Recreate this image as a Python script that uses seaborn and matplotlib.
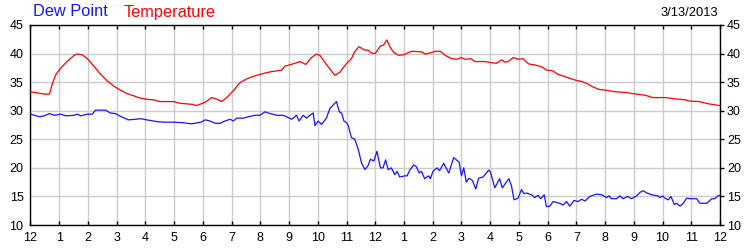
import numpy as np
import pandas as pd
import matplotlib
matplotlib.use("Agg")
import matplotlib.pyplot as plt
import seaborn as sns

# ---- data (hours since midnight, degrees) ----
temp_hours = [0, 0.25, 0.5, 0.66, 0.77, 0.89, 1.06, 1.29, 1.52, 1.63, 1.8, 1.98, 2.2, 2.44,
              2.67, 2.9, 3.13, 3.36, 3.59, 3.82, 4.05, 4.28, 4.5, 4.97, 5.2, 5.66, 5.77, 5.94,
              6.08, 6.31, 6.49, 6.66, 6.83, 7.06, 7.29, 7.53, 7.7, 7.87, 8.1, 8.34, 8.74, 8.86,
              9.14, 9.38, 9.58, 9.78, 9.95, 10.07, 10.3, 10.59, 10.76, 10.99, 11.17, 11.28,
              11.43, 11.63, 11.75, 11.86, 12.0, 12.17, 12.29, 12.4, 12.52, 12.64, 12.81, 13.0,
              13.16, 13.27, 13.62, 13.74, 13.91, 14.08, 14.26, 14.43, 14.66, 14.84, 14.99,
              15.13, 15.33, 15.47, 15.82, 16.05, 16.22, 16.4, 16.51, 16.63, 16.8, 16.98, 17.15,
              17.33, 17.56, 17.79, 17.96, 18.17, 18.35, 18.52, 18.75, 19.0, 19.2, 19.39, 19.56,
              19.8, 20.0, 20.38, 20.72, 20.95, 21.24, 21.4, 21.65, 22.1, 22.4, 22.8, 22.92,
              23.27, 23.6, 24.0]
temp_values = [33.3, 33.1, 32.9, 32.9, 34.9, 36.4, 37.5, 38.7, 39.7, 39.9, 39.8, 39.1, 37.8, 36.4,
               35.2, 34.3, 33.6, 33.0, 32.6, 32.2, 32.0, 31.9, 31.6, 31.6, 31.3, 31.1, 30.9, 31.2,
               31.5, 32.3, 32.0, 31.6, 32.3, 33.5, 34.9, 35.6, 35.9, 36.2, 36.5, 36.8, 37.1, 37.8,
               38.2, 38.6, 38.1, 39.3, 39.9, 39.7, 38.1, 36.2, 36.7, 38.2, 39.1, 40.3,
               41.2, 40.6, 40.6, 40.1, 40.0, 41.3, 41.5, 42.4, 41.1, 40.2, 39.7, 39.8,
               40.2, 40.4, 40.3, 39.9, 40.1, 40.4, 40.4, 39.7, 39.1, 39.0, 39.3,
               39.0, 39.1, 38.6, 38.6, 38.4, 38.3, 38.9, 38.5, 38.6, 39.3, 39.0, 39.1,
               38.2, 38.0, 37.7, 37.1, 37.0, 36.4, 36.1, 35.7, 35.3, 35.1, 34.7, 34.2,
               33.7, 33.6, 33.3, 33.2, 33.0, 32.8, 32.7, 32.3, 32.3, 32.1, 31.9, 31.7,
               31.6, 31.2, 30.9]

dew_hours = [0, 0.14, 0.31, 0.48, 0.66, 0.83, 1.06, 1.23, 1.52, 1.63, 1.75, 1.98, 2.15, 2.26,
             2.44, 2.61, 2.78, 2.95, 3.18, 3.41, 3.64, 3.82, 4.05, 4.39, 4.62, 4.97, 5.31, 5.6,
             5.94, 6.08, 6.25, 6.43, 6.6, 6.77, 6.95, 7.06, 7.18, 7.41, 7.58, 7.82, 7.99, 8.16,
             8.34, 8.57, 8.8, 8.91, 9.09, 9.26, 9.35, 9.49, 9.61, 9.72, 9.84, 9.9, 10.01, 10.13,
             10.3, 10.42, 10.65, 10.75, 10.83, 10.91, 11.0, 11.06, 11.17, 11.29, 11.41, 11.52,
             11.64, 11.75, 11.83, 11.95, 12.06, 12.18, 12.27, 12.36, 12.45, 12.56, 12.68, 12.76,
             12.85, 13.03, 13.11, 13.2, 13.34, 13.43, 13.53, 13.61, 13.72, 13.86, 13.92, 14.01,
             14.15, 14.24, 14.38, 14.56, 14.73, 14.92, 15.0, 15.08, 15.17, 15.26, 15.38, 15.5,
             15.6, 15.75, 15.95, 16.01, 16.16, 16.33, 16.42, 16.65, 16.74, 16.83, 16.97, 17.09,
             17.17, 17.26, 17.44, 17.55, 17.67, 17.76, 17.88, 17.96, 18.08, 18.19, 18.42, 18.54,
             18.66, 18.77, 18.92, 19.06, 19.18, 19.3, 19.47, 19.7, 19.88, 20.05, 20.14, 20.22,
             20.4, 20.51, 20.63, 20.78, 20.92, 21.1, 21.21, 21.33, 21.45, 21.62, 21.83, 21.91,
             22.0, 22.08, 22.2, 22.29, 22.41, 22.49, 22.61, 22.72, 22.84, 22.95, 23.19, 23.3,
             23.54, 23.71, 23.82, 23.92, 24.0]
dew_values = [29.4, 29.2, 28.95, 29.1, 29.5, 29.2, 29.4, 29.1, 29.2, 29.4, 29.1, 29.4, 29.4, 30.1,
              30.1, 30.1, 29.6, 29.5, 28.9, 28.4, 28.5, 28.6, 28.4, 28.1, 28.0, 28.0, 27.9, 27.7,
              28.0, 28.4, 28.2, 27.8, 27.8, 28.2, 28.5, 28.2, 28.7, 28.7, 28.95, 29.2, 29.2, 29.8,
              29.5, 29.2, 29.2, 28.95, 28.5, 29.2, 28.2, 29.2, 28.7, 29.2, 29.6, 27.4, 28.2, 27.6,
              28.7, 30.4, 31.6, 29.8, 29.6, 28.2, 27.9, 27.4, 25.3, 25.0, 23.2, 20.9,
              19.7, 20.4, 21.5, 21.2, 22.9, 20.0, 20.0, 21.4, 19.7, 20.0, 18.8, 19.4,
              18.4, 18.6, 18.6, 19.6, 20.5, 20.2, 19.1, 19.4, 18.1, 18.6, 18.1, 19.4,
              20.0, 19.5, 20.8, 19.1, 21.8, 21.0, 18.6, 20.0, 17.5, 18.2, 17.8, 16.3,
              18.2, 18.4, 19.6, 19.3, 16.5, 18.1, 16.5, 18.1, 16.9, 14.4, 14.7, 16.2,
              15.5, 15.6, 15.3, 14.8, 15.2, 14.6, 15.3, 13.2, 13.3, 14.1, 13.8, 13.5,
              14.1, 13.3, 14.3, 14.1, 14.5, 14.2, 15.0, 15.4, 15.3, 14.8, 15.1, 14.6,
              14.6, 15.1, 14.6, 15.0, 14.6, 15.1, 15.7, 16.0, 15.6, 15.3, 15.1, 14.8,
              15.1, 14.7, 14.4, 15.0, 13.6, 13.8, 13.3, 13.8, 14.7, 14.6, 14.6, 13.8,
              13.8, 14.6, 14.6, 15.1, 15.2]

hour_labels = ["12", "1", "2", "3", "4", "5", "6", "7", "8", "9", "10", "11",
               "12", "1", "2", "3", "4", "5", "6", "7", "8", "9", "10", "11", "12"]
y_ticks = [10, 15, 20, 25, 30, 35, 40, 45]
date_text = "3/13/2013"
series_names = ["Dew Point", "Temperature"]

# ---- style ----
sns.set_style("white")
plt.rcParams["font.family"] = ["Liberation Sans", "DejaVu Sans"]

fig = plt.figure(figsize=(7.5, 2.5), dpi=100)
ax = fig.add_axes([30.5 / 750, 25 / 250, (720 - 30.5) / 750, 200 / 250])

df_t = pd.DataFrame({"hour": temp_hours, "value": temp_values})
df_d = pd.DataFrame({"hour": dew_hours, "value": dew_values})

sns.lineplot(data=df_t, x="hour", y="value", color="#ff0000", linewidth=0.9, ax=ax, zorder=3)
sns.lineplot(data=df_d, x="hour", y="value", color="#1515ff", linewidth=0.9, ax=ax, zorder=3)

ax.set_xlim(0, 24)
ax.set_ylim(10, 45)
ax.set_xticks(range(25))
ax.set_xticklabels(hour_labels)
ax.set_yticks(y_ticks)
ax.set_xlabel("")
ax.set_ylabel("")

ax.grid(True, color="#cccccc", linewidth=1.0, zorder=0)
ax.set_axisbelow(True)
for s in ax.spines.values():
    s.set_visible(True)
    s.set_color("black")
    s.set_linewidth(1.0)

ax.tick_params(axis="x", which="both", direction="in", top=True, bottom=True,
               length=3, width=1, colors="black", labelsize=9, pad=5)
ax.tick_params(axis="y", which="both", direction="out", left=False, right=True,
               labelleft=True, labelright=True, length=3, width=1,
               colors="black", labelsize=9, pad=2)

fig.text(33 / 750, 1 - 12 / 250, series_names[0], color="#1515ff", fontsize=11.8,
         ha="left", va="center")
fig.text(124 / 750, 1 - 12 / 250, series_names[1], color="#ff0000", fontsize=11.8,
         ha="left", va="center")
fig.text(718 / 750, 1 - 13 / 250, date_text, color="black", fontsize=9.3,
         ha="right", va="center")

fig.savefig("out.png", dpi=100)
